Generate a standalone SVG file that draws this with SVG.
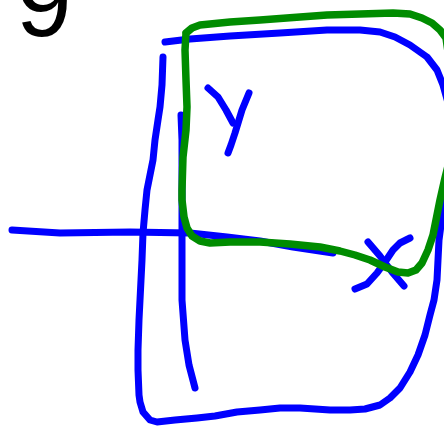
<svg xmlns="http://www.w3.org/2000/svg" width="444" height="426" viewBox="0 0 444 426">
<style>
.b{fill:none;stroke:#0000ff;stroke-width:7;stroke-linecap:round;stroke-linejoin:round}
.g{fill:none;stroke:#008c00;stroke-width:7.5;stroke-linecap:round;stroke-linejoin:round}
.t{font-family:"Liberation Sans",Arial,sans-serif;fill:#000}
</style>
<rect width="444" height="426" fill="#fff"/>
<g id="label9"><text class="t" x="16" y="36" font-size="100">9</text></g>
<g id="connectors">
<path id="outer" class="b" d="M165,42 L190,39 L230,36 L280,33 L327,30 L360,30 L380,32 L395,37 L410,45 L427,57 L437,70 L443,85 L450,110 L455,150 L450,190 L443,210 L439,240 L437,280 L434,300 L430,315 L425,335 L418,355 L410,372 L400,388 L390,398 L380,405 L365,409 L350,410 L330,410 L300,408 L280,408 L260,410 L237,412 L215,416 L197,418 L175,420 L157,422 L150,420 L143,412 L140,402 L139,395 L138,370 L138,350 L139,320 L140,300 L141,280 L142,260 L143,233 L145,210 L147,190 L150,175 L153,160 L155,140 L158,120 L160,107 L162,85 L163,57"/>
<path id="inner" class="b" d="M181,115 L182,140 L182,173 L182,233 L182,270 L182,300 L185,340 L189,365 L195,388"/>
<path id="hline" class="b" d="M12,230 L60,233 L130,232 L190,233 L227,237 L260,241 L293,247 L333,253"/>
<path id="y1" class="b" d="M208,88 L218,97 L226,110 L233,123"/>
<path id="y2" class="b" d="M249,93 L242,110 L235,133 L231,145 L228,153"/>
<path id="x1" class="b" d="M368,242 L380,256 L392,272 L404,286"/>
<path id="x2" class="b" d="M410,238 L400,243 L393,250 L385,262 L377,273 L367,284 L355,289"/>
<path id="green" class="g" d="M186,33 L192,28 L200,25 L230,22 L260,20 L300,17 L327,15 L360,14 L393,13 L410,14 L422,18 L432,23 L440,30 L446,38 L452,80 L452,150 L445,178 L440,200 L436,220 L433,235 L428,250 L422,263 L416,270 L408,273 L398,272 L385,267 L370,260 L355,255 L340,251 L320,247 L290,244 L260,242 L230,242 L210,243 L200,241 L192,236 L187,228 L184,217 L182,200 L182,190 L183,157 L186,130 L187,107 L186,80 L185,50 L186,33"/>
</g>
</svg>
